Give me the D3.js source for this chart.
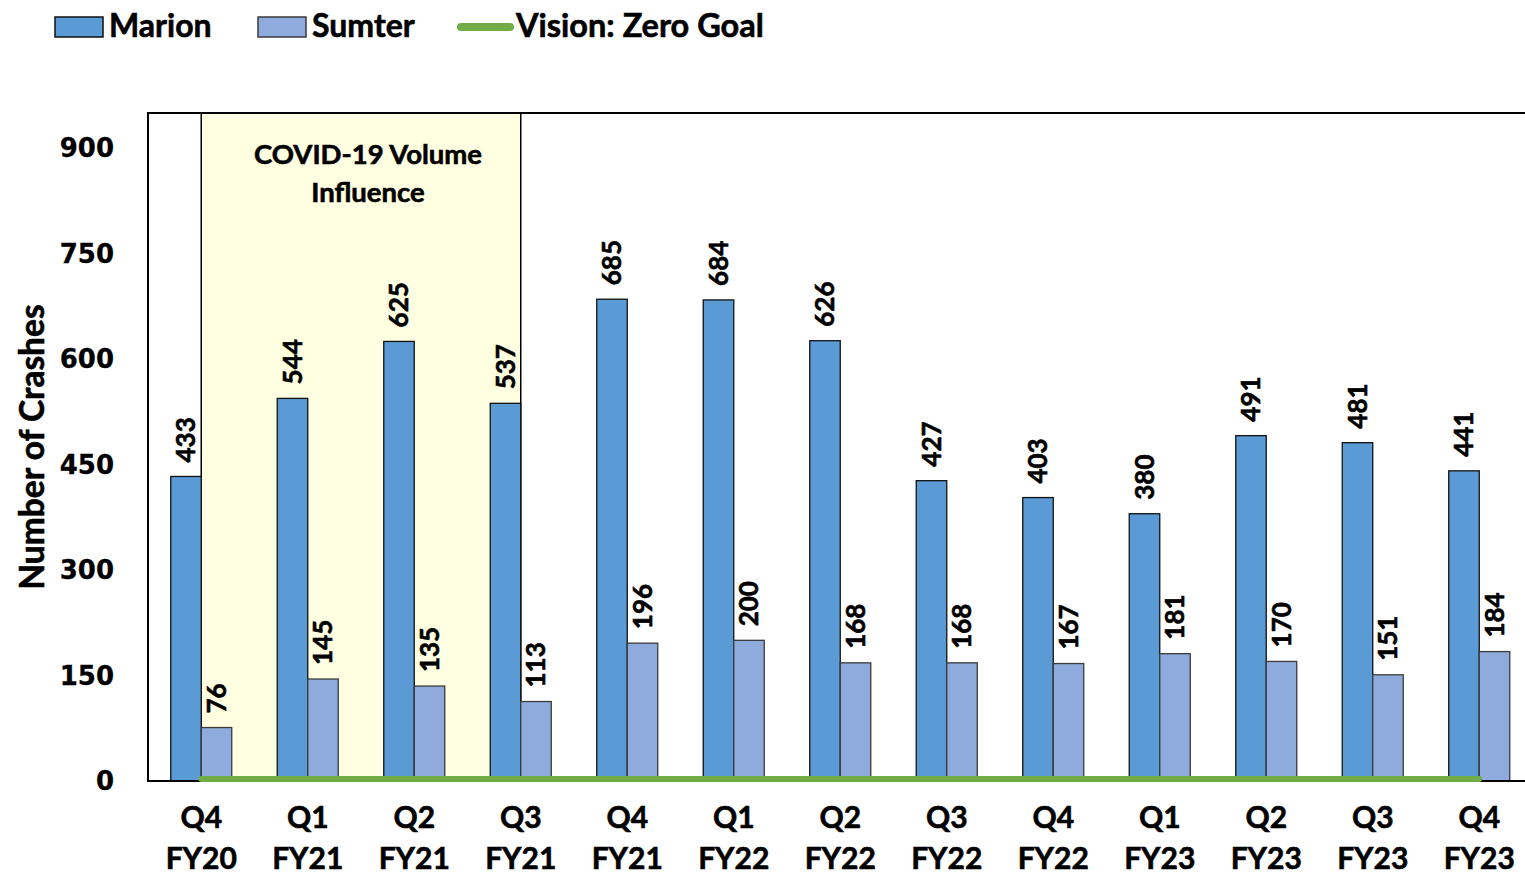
<!DOCTYPE html>
<html>
<head>
<meta charset="utf-8">
<script src="https://cdn.jsdelivr.net/npm/d3@7"></script>
<style>
  body { margin: 0; background: #fff; }
  svg text { font-family: Lato, "Open Sans", sans-serif; font-weight: 700; fill: #000; stroke: #000; stroke-width: 0.6px; }
  .ytick text { font-family: "DejaVu Sans", Verdana, sans-serif; stroke-width: 0.3px; }
</style>
</head>
<body>
<svg id="chart" width="1525" height="875"></svg>
<script>
// quarters on the x axis
const quarters = ['Q4', 'Q1', 'Q2', 'Q3', 'Q4', 'Q1', 'Q2', 'Q3', 'Q4', 'Q1', 'Q2', 'Q3', 'Q4'];
const years = ['FY20', 'FY21', 'FY21', 'FY21', 'FY21', 'FY22', 'FY22', 'FY22', 'FY22', 'FY23', 'FY23', 'FY23', 'FY23'];
const marion = [433, 544, 625, 537, 685, 684, 626, 427, 403, 380, 491, 481, 441];
const sumter = [76, 145, 135, 113, 196, 200, 168, 168, 167, 181, 170, 151, 184];
const zeroGoal = [0, 0, 0, 0, 0, 0, 0, 0, 0, 0, 0, 0, 0];
const yTicks = [0, 150, 300, 450, 600, 750, 900];
const seriesNames = ['Marion', 'Sumter'];
const covidFrom = 0, covidTo = 3; // shaded quarters (center to center)

const svg = d3.select('#chart');
const plotLeft = 148, plotTop = 113, plotBottom = 781;
const cats = quarters.map((q, i) => i);

const x = d3.scaleBand().domain(cats).range([plotLeft, plotLeft + 13 * 106.5]).padding(0);
const y = d3.scaleLinear().domain([0, 900]).range([plotBottom, 148]);
const inner = d3.scaleBand().domain(seriesNames).range([-30.5, 30.5]);
const cx = i => x(i) + x.bandwidth() / 2;

const colors = { Marion: '#5b9bd5', Sumter: '#8faadc' };
const strokes = { Marion: '#111', Sumter: '#3a3a3a' };

// covid shading
svg.append('rect')
  .attr('x', cx(covidFrom)).attr('y', plotTop)
  .attr('width', cx(covidTo) - cx(covidFrom)).attr('height', plotBottom - plotTop)
  .attr('fill', '#ffffe1').attr('stroke', '#000').attr('stroke-width', 1.5);

const covidX = (cx(covidFrom) + cx(covidTo)) / 2 + 7;
const covid = svg.append('text').attr('text-anchor', 'middle').style('font-size', '27.5px');
covid.append('tspan').attr('x', covidX).attr('y', 164).text('COVID-19 Volume');
covid.append('tspan').attr('x', covidX).attr('y', 202).text('Influence');

// bars
const data = [marion, sumter];
seriesNames.forEach((name, s) => {
  const g = svg.append('g');
  g.selectAll('rect').data(data[s]).join('rect')
    .attr('x', (d, i) => cx(i) + inner(name))
    .attr('y', d => y(d))
    .attr('width', inner.bandwidth())
    .attr('height', d => y(0) - y(d))
    .attr('fill', colors[name])
    .attr('stroke', strokes[name]).attr('stroke-width', 1.3);
  g.selectAll('text').data(data[s]).join('text')
    .attr('transform', (d, i) => `translate(${cx(i) + inner(name) + inner.bandwidth() / 2 + 9},${y(d) - 14}) rotate(-90)`)
    .style('font-size', '26px')
    .text(d => d);
});

// frame
svg.append('path')
  .attr('d', `M1540,${plotTop}H${plotLeft}V${plotBottom}H1540`)
  .attr('fill', 'none').attr('stroke', '#000').attr('stroke-width', 2);

// zero goal line
const line = d3.line().x((d, i) => cx(i)).y(d => y(d) - 2);
svg.append('path').datum(zeroGoal)
  .attr('d', line)
  .attr('fill', 'none').attr('stroke', '#70ad47').attr('stroke-width', 6).attr('stroke-linecap', 'round');

// y ticks
const yt = svg.append('g').attr('class', 'ytick');
yt.selectAll('text').data(yTicks).join('text')
  .attr('x', 114).attr('y', d => y(d)).attr('dy', '0.35em')
  .attr('text-anchor', 'end').style('font-size', '26px')
  .text(d => d);

svg.append('text')
  .attr('transform', `translate(44,447) rotate(-90)`)
  .attr('text-anchor', 'middle').style('font-size', '33.5px')
  .text('Number of Crashes');

// x labels
const xl = svg.append('g');
xl.selectAll('text').data(cats).join('text')
  .attr('text-anchor', 'middle').style('font-size', '30px')
  .each(function(i) {
    const t = d3.select(this);
    t.append('tspan').attr('x', cx(i)).attr('y', 828).text(quarters[i]);
    t.append('tspan').attr('x', cx(i)).attr('y', 869).text(years[i]);
  });

// legend
const leg = svg.append('g');
[['Marion', 55], ['Sumter', 258]].forEach(([name, lx]) => {
  leg.append('rect').attr('x', lx).attr('y', 17).attr('width', 48).attr('height', 20)
    .attr('fill', colors[name]).attr('stroke', strokes[name]).attr('stroke-width', 1.5);
  leg.append('text').attr('x', lx + 54).attr('y', 37).style('font-size', '32px').text(name);
});
leg.append('line').attr('x1', 461).attr('x2', 510).attr('y1', 27).attr('y2', 27)
  .attr('stroke', '#70ad47').attr('stroke-width', 8).attr('stroke-linecap', 'round');
leg.append('text').attr('x', 516).attr('y', 37).style('font-size', '32.5px').text('Vision: Zero Goal');
</script>
</body>
</html>
